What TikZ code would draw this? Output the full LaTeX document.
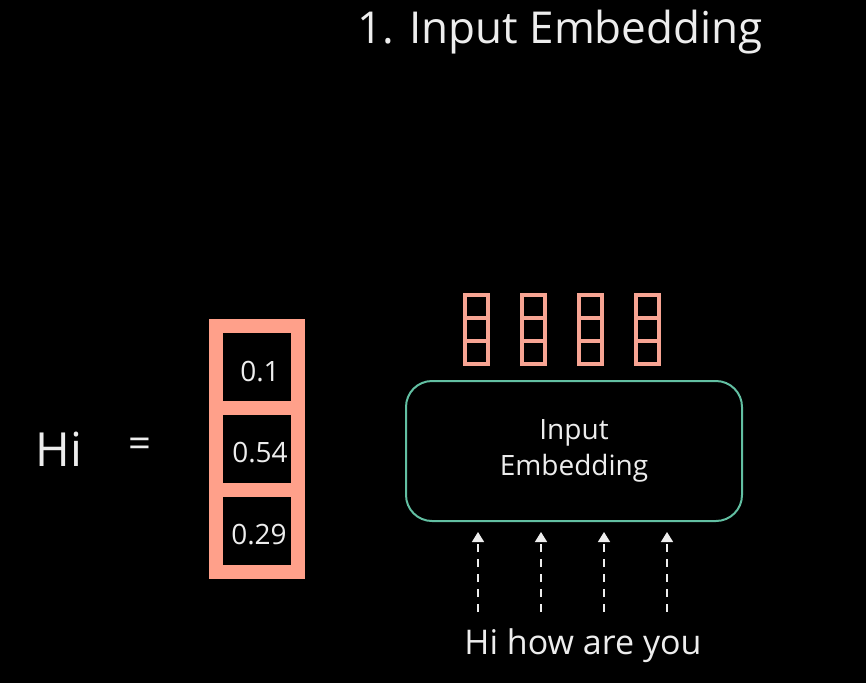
\documentclass[tikz,border=0pt]{standalone}
\usepackage{fontspec}
\setmainfont{Open Sans}
\usetikzlibrary{arrows.meta}
\definecolor{salmon}{HTML}{FFA08A}
\definecolor{salmonlt}{HTML}{F7A493}
\definecolor{tealb}{HTML}{62BFA2}
\definecolor{txt}{HTML}{EDEDED}
\tikzset{
  bigcell/.style={draw=salmon, line width=14pt, minimum width=82pt, minimum height=81.7pt, inner sep=0pt},
  numlbl/.style={text=txt, inner sep=0pt, font=\fontsize{28}{32}\selectfont},
  smallcell/.style={draw=salmonlt, line width=3.5pt, minimum width=23pt, minimum height=23pt, inner sep=0pt},
  embbox/.style={draw=tealb, line width=2pt, rounded corners=26pt, minimum width=336pt, minimum height=140pt, align=center, text=txt, font=\fontsize{28}{36}\selectfont},
  lbl/.style={text=txt, inner sep=0pt},
  tokarrow/.style={draw=txt, line width=1.4pt, dash pattern=on 8pt off 7pt, -{Triangle[width=12pt,length=10pt]}}
}
\begin{document}
\begin{tikzpicture}[x=1pt,y=-1pt]
\fill[black] (0,0) rectangle (866,683);
\useasboundingbox (0,0) rectangle (866,683);

\node[lbl, font=\fontsize{44}{52}\selectfont] (title) at (560,32) {1. Input Embedding};

\node[lbl, font=\fontsize{47}{54}\selectfont] (hi) at (59,449) {Hi};
\node[lbl, font=\fontsize{40}{48}\selectfont] (eq) at (140,448) {=};

\node[bigcell] (c1) at (257,367.3) {};
\node[bigcell] (c2) at (257,449) {};
\node[bigcell] (c3) at (257,530.7) {};
\node[numlbl] (n1) at (260,372) {0.1};
\node[numlbl] (n2) at (260,453) {0.54};
\node[numlbl] (n3) at (259,535) {0.29};

\foreach \i/\x in {1/476.5,2/533.5,3/590.5,4/647.5}{
  \node[smallcell] (v\i a) at (\x,306.5) {};
  \node[smallcell] (v\i b) at (\x,329.5) {};
  \node[smallcell] (v\i c) at (\x,352.5) {};
}

\node[embbox] (emb) at (574,451) {Input\\Embedding};

\foreach \i/\x in {1/478,2/541,3/604,4/667}{
  \coordinate (s\i) at (\x,612);
  \coordinate (t\i) at (\x,532);
  \draw[tokarrow] (s\i) -- (t\i);
}

\node[lbl, font=\fontsize{34}{40}\selectfont] (words) at (583,646) {Hi how are you};
\end{tikzpicture}
\end{document}
